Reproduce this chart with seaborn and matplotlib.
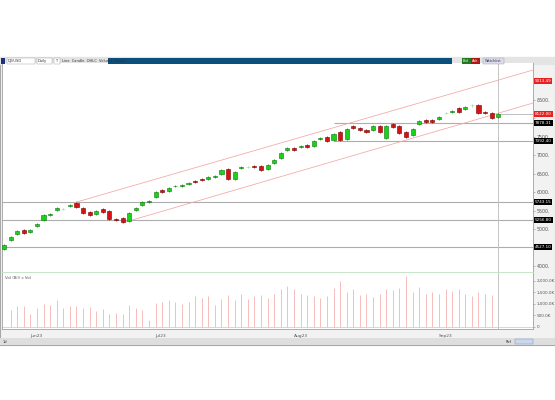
import matplotlib
matplotlib.use("Agg")
import matplotlib.pyplot as plt
from matplotlib.patches import Rectangle
import seaborn as sns

# ---- data ----
opens = [4473, 4716, 4878, 4986, 4932, 5094, 5256, 5392, 5527, 5548,
         5635, 5716, 5581, 5473, 5419, 5554, 5500, 5283, 5310, 5229,
         5527, 5662, 5743, 5878, 6067, 6040, 6162, 6175, 6230, 6311,
         6365, 6365, 6419, 6500, 6635, 6365, 6662, 6682, 6716, 6716,
         6635, 6797, 6932, 7149, 7203, 7230, 7284, 7257, 7446, 7500,
         7419, 7635, 7446, 7797, 7743, 7689, 7689, 7797, 7473, 7851,
         7797, 7635, 7554, 7851, 7959, 7959, 7986, 8142, 8176, 8284,
         8257, 8358, 8365, 8176, 8149, 8041]
closes = [4581, 4797, 4959, 4905, 4986, 5148, 5392, 5419, 5581, 5554,
          5662, 5608, 5446, 5392, 5500, 5473, 5283, 5256, 5202, 5446,
          5581, 5743, 5770, 6013, 6013, 6121, 6175, 6202, 6257, 6284,
          6338, 6419, 6446, 6608, 6365, 6554, 6689, 6689, 6689, 6608,
          6743, 6878, 7067, 7203, 7149, 7257, 7230, 7392, 7473, 7392,
          7581, 7419, 7716, 7743, 7689, 7635, 7797, 7635, 7797, 7770,
          7608, 7500, 7716, 7932, 7905, 7905, 8041, 8149, 8203, 8176,
          8311, 8365, 8149, 8162, 8014, 8122]
highs = [4620, 4830, 4990, 5010, 5010, 5170, 5410, 5450, 5600, 5590,
         5690, 5740, 5600, 5490, 5520, 5580, 5520, 5300, 5330, 5470,
         5600, 5760, 5800, 6030, 6090, 6140, 6200, 6230, 6280, 6330,
         6390, 6440, 6470, 6630, 6660, 6580, 6710, 6720, 6740, 6740,
         6760, 6900, 7090, 7230, 7230, 7280, 7310, 7410, 7500, 7520,
         7600, 7660, 7740, 7820, 7760, 7710, 7820, 7820, 7820, 7880,
         7820, 7660, 7740, 7950, 7980, 7980, 8060, 8180, 8230, 8300,
         8330, 8390, 8390, 8200, 8170, 8140]
lows = [4440, 4690, 4850, 4880, 4910, 5070, 5230, 5370, 5500, 5520,
        5610, 5580, 5420, 5370, 5390, 5450, 5260, 5230, 5180, 5200,
        5500, 5640, 5720, 5850, 5990, 6020, 6140, 6160, 6210, 6260,
        6310, 6340, 6400, 6480, 6340, 6340, 6640, 6650, 6670, 6580,
        6610, 6770, 6910, 7120, 7120, 7200, 7200, 7230, 7420, 7370,
        7390, 7390, 7420, 7720, 7660, 7610, 7660, 7610, 7440, 7740,
        7580, 7470, 7530, 7820, 7880, 7880, 7960, 8110, 8150, 8150,
        8230, 8320, 8120, 8130, 7990, 8010]
volumes_k = [0, 725, 913, 913, 580, 826, 1014, 942, 1159, 826,
             899, 913, 826, 870, 681, 768, 580, 623, 580, 942,
             826, 754, 290, 1058, 1087, 1159, 1087, 1014, 1087, 1333,
             1275, 1333, 971, 1203, 1377, 1159, 1449, 1203, 1333, 1377,
             1275, 1449, 1638, 1768, 1667, 1449, 1406, 1333, 1275, 1333,
             1710, 1986, 1522, 1667, 1406, 1449, 1304, 1449, 1638, 1623,
             1681, 2203, 1522, 1739, 1420, 1522, 1420, 1638, 1551, 1667,
             1449, 1333, 1522, 1449, 1377, 0]

month_labels = ["Jun23", "Jul23", "Aug23", "Sep23"]
month_starts = [4, 23, 44, 66]
price_ticks = [4000, 4500, 5000, 5500, 6000, 6500, 7000, 7500, 8000, 8500]
# tick labels hidden behind value tags on the scale
hidden_ticks = [4500, 8000]
volume_ticks = [0, 500, 1000, 1500, 2000]
volume_tick_labels = ["0", "500.0K", "1,000.0K", "1,500.0K", "2,000.0K"]

# horizontal support / resistance levels and the bar where each starts
levels = [7878.31, 7392.40, 5743.15, 5256.80, 4527.10]
level_starts = [50, 50, 0, 0, 0]
alert_level = 9013.49

# trend channel anchors (bar index, price)
upper_x = [10.5, 80.3]
upper_y = [5716, 9311]
lower_x = [17.9, 80.3]
lower_y = [5175, 8419]

# ---- styling ----
sns.set_style("white")
plt.rcParams["font.family"] = ["DejaVu Sans"]

W, H = 555, 400
fig = plt.figure(figsize=(W / 100, H / 100), dpi=100)
fig.patch.set_facecolor("white")


def px_box(x0, y0, x1, y1):
    """pixel box (top-left origin) -> figure rect"""
    return [x0 / W, 1 - y1 / H, (x1 - x0) / W, (y1 - y0) / H]


def px_rect(x0, y0, x1, y1, color, z=0, ec="none", lw=0):
    r = Rectangle((x0 / W, 1 - y1 / H), (x1 - x0) / W, (y1 - y0) / H,
                  transform=fig.transFigure, facecolor=color, edgecolor=ec,
                  linewidth=lw, zorder=z)
    fig.add_artist(r)


def px_text(x, y, s, **kw):
    fig.text(x / W, 1 - y / H, s, **kw)


# window chrome
px_rect(0, 57, 555, 345, "#f2f2f2", z=-2, ec="#a8a8a8", lw=0.8)
px_rect(0, 57, 555, 65, "#e4e4e4", z=-1)
px_rect(108, 58.5, 452, 64, "#0b4f7c", z=1)
px_rect(7, 58.5, 35, 64, "white", z=1, ec="#9a9a9a", lw=0.3)
px_rect(37, 58.5, 52, 64, "white", z=1, ec="#9a9a9a", lw=0.3)
px_rect(54, 58.5, 60, 64, "white", z=1, ec="#9a9a9a", lw=0.3)
px_rect(462, 58.5, 471, 64, "#1f7a1f", z=1)
px_rect(471, 58.5, 480, 64, "#b01818", z=1)
px_rect(483, 58.5, 504, 64, "#dcdcf0", z=1, ec="#9a9a9a", lw=0.3)
px_rect(1, 58.5, 5, 64, "#20307a", z=1)
px_rect(0, 338, 555, 345, "#dedede", z=-1)
px_rect(515, 339, 533, 344, "#c8d8f0", z=1, ec="#7a8ab0", lw=0.3)
tiny = dict(fontsize=2.6, color="#333333", va="center", zorder=2)
px_text(8, 61.3, "DJI/USD", **tiny)
px_text(38, 61.3, "Daily", **tiny)
px_text(55, 61.3, "T", **tiny)
px_text(62, 61.3, "Line  Candle  OHLC  Volume  Study", **tiny)
px_text(463, 61.3, "Bid", fontsize=2.6, color="white", va="center", zorder=2)
px_text(472, 61.3, "Ask", fontsize=2.6, color="white", va="center", zorder=2)
px_text(485, 61.3, "Watchlist", **tiny)
px_text(3, 342, "1d", **tiny)
px_text(506, 342, "Ref", **tiny)

# ---- price panel ----
ax = fig.add_axes(px_box(2, 63, 533, 272))
ax.set_facecolor("white")
x = list(range(len(opens)))

up_face, up_edge = "#19d219", "#0a7a0a"
dn_face, dn_edge = "#d41414", "#7a0000"
doji = "#9be39b"
for i in x:
    o, c = opens[i], closes[i]
    if abs(c - o) < 10:
        face, edge = doji, doji
    elif c >= o:
        face, edge = up_face, up_edge
    else:
        face, edge = dn_face, dn_edge
    ax.vlines(i, lows[i], highs[i], color=edge if edge != doji else "#8ccf8c",
              lw=0.5, zorder=3)
    ax.bar(i, max(abs(c - o), 12), bottom=min(o, c), width=0.62,
           color=face, edgecolor=edge, linewidth=0.4, zorder=4)

# channels
sns.lineplot(x=upper_x, y=upper_y, ax=ax, color="#f4a6a6", lw=0.55, zorder=2)
sns.lineplot(x=lower_x, y=lower_y, ax=ax, color="#f4a6a6", lw=0.55, zorder=2)

xmax = 80.27
for lvl, start in zip(levels, level_starts):
    ax.hlines(lvl, start if start > 0 else -0.3, xmax, color="#adadad",
              lw=0.8, zorder=1)
ax.hlines(closes[-1], len(closes) - 1, xmax, color="#b4b4b4", lw=0.6, zorder=1)
ax.axvline(len(closes) - 1, color="#c4c4c4", lw=0.7, zorder=1)

ax.set_xlim(-0.3, xmax)
ax.set_ylim(3851, 9500)
ax.set_xticks([])
ax.yaxis.tick_right()
ax.set_yticks(price_ticks)
ax.set_yticklabels(["" if t in hidden_ticks else f"{t}." for t in price_ticks])
ax.tick_params(axis="y", labelsize=3.4, labelcolor="#555555", length=1.5,
               width=0.4, color="#888888", pad=1)
for side, sp in ax.spines.items():
    sp.set_linewidth(0.6)
    sp.set_color("#a0a0a0")
ax.spines["bottom"].set_color("#bfe0bf")
ax.spines["top"].set_visible(False)

# value tags on the price scale
ytr = ax.get_yaxis_transform()
tag = dict(fontsize=3.0, color="white", va="center", ha="left",
           transform=ytr, clip_on=False, zorder=6)
for lvl in levels:
    ax.text(1.003, lvl, f"{lvl:.2f}",
            bbox=dict(boxstyle="square,pad=0.25", fc="black", ec="none"), **tag)
ax.text(1.003, closes[-1], f"{closes[-1]:.2f}",
        bbox=dict(boxstyle="square,pad=0.25", fc="#e82020", ec="none"), **tag)
ax.text(1.003, alert_level, f"{alert_level:.2f}",
        bbox=dict(boxstyle="square,pad=0.25", fc="#e82020", ec="none"), **tag)

# ---- volume panel ----
vax = fig.add_axes(px_box(2, 272, 533, 329))
vax.set_facecolor("white")
vax.vlines(x, 0, volumes_k, color="#f6b2b2", lw=0.6)
vax.axvline(len(closes) - 1, color="#c4c4c4", lw=0.7)
vax.axhline(0, color="#c8c8c8", lw=0.5)
vax.set_xlim(-0.3, xmax)
vax.set_ylim(-87, 2391)
vax.yaxis.tick_right()
vax.set_yticks(volume_ticks)
vax.set_yticklabels(volume_tick_labels)
vax.tick_params(axis="y", labelsize=3.0, labelcolor="#555555", length=1.5,
                width=0.4, color="#888888", pad=1)
vax.set_xticks(month_starts)
vax.set_xticklabels(month_labels, ha="left")
vax.tick_params(axis="x", labelsize=3.2, labelcolor="#555555", length=2,
                width=0.4, color="#888888", pad=1.5)
for side, sp in vax.spines.items():
    sp.set_linewidth(0.6)
    sp.set_color("#a0a0a0")
vax.spines["top"].set_color("#bfe0bf")
vax.text(0.006, 0.9, "Vol (Bil) x Vol", transform=vax.transAxes,
         fontsize=2.8, color="#555555", va="center")

fig.savefig("out.png", dpi=100)
